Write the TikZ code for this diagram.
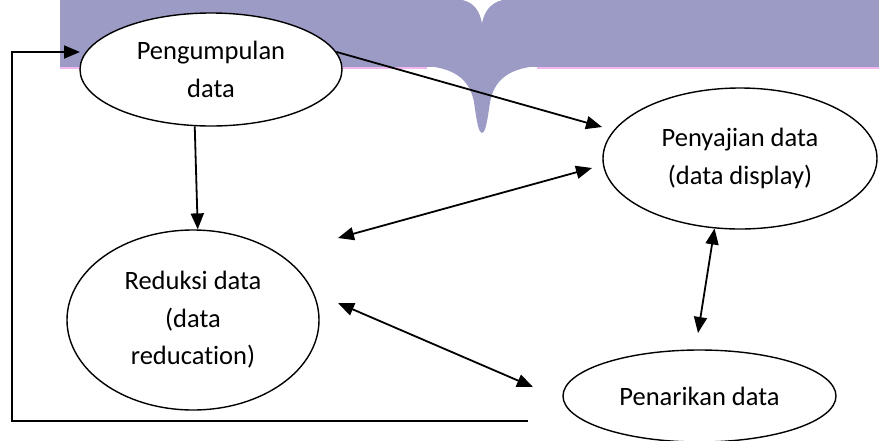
\documentclass[tikz,border=0pt]{standalone}
\usepackage{fontspec}
\newfontfamily\calib[Ligatures=NoCommon]{Carlito}
\usepackage{xcolor}
\definecolor{bandLav}{HTML}{9B9BC5}
\definecolor{bandPink}{HTML}{F2B6F0}
\usepackage{tikz}
\usetikzlibrary{arrows.meta, shapes.geometric}

\begin{document}
\begin{tikzpicture}[
    x=1pt, y=-1pt,
    stage/.style={ellipse, draw=black, fill=white, line width=1.4pt, inner sep=0pt,
                  align=center, font=\calib\fontsize{26.5}{37.5}\selectfont},
    arrow/.style={-{Triangle[length=16pt,width=13pt]}, line width=1.8pt},
    twoway/.style={{Triangle[length=16pt,width=13pt]}-{Triangle[length=16pt,width=13pt]},
                  line width=1.8pt}
]
\useasboundingbox (0,0) rectangle (879,440);
\clip (0,0) rectangle (879,440);

% header band with watermark
\fill[bandLav] (60,0) rectangle (879,67);
\fill[bandPink] (60,67) rectangle (427,68.5);
\fill[bandPink] (537,67) rectangle (879,68.5);
\fill[bandLav] (427,66) .. controls (458,69) and (470,82) .. (474,102)
    .. controls (477,124) and (479,133) .. (482,133)
    .. controls (485,133) and (487,124) .. (490,102)
    .. controls (494,82) and (506,69) .. (537,66) -- cycle;
\fill[white] (463,0) .. controls (475,3) and (480,12) .. (482,23)
    .. controls (484,12) and (490,3) .. (502,0) -- cycle;

% stages
\node[stage, minimum width=262pt, minimum height=113pt] (kumpul) at (211,69.5)
    {Pengumpulan\\data};
\node[stage, minimum width=274pt, minimum height=141pt] (sajian) at (740,158.5)
    {Penyajian data\\(data display)};
\node[stage, minimum width=252pt, minimum height=180pt] (reduksi) at (193,320)
    {Reduksi data\\(data\\reducation)};
\node[stage, minimum width=273pt, minimum height=92pt] (tarik) at (699.5,396)
    {Penarikan data};

% free ends
\coordinate (sajianIn) at (602,127);
\coordinate (redA) at (338,238);
\coordinate (sajA) at (592,168);
\coordinate (redB) at (338,303);
\coordinate (tarikA) at (533,387);
\coordinate (tarikB) at (698,333);
\coordinate (loopStart) at (528,421);
\coordinate (loopTop) at (12,52);
\coordinate (kumpulIn) at (80,52);

\draw[arrow] (kumpul.254) -- (reduksi.87);
\draw[arrow] (kumpul.8) -- (sajianIn);
\draw[twoway] (redA) -- (sajA);
\draw[twoway] (redB) -- (tarikA);
\draw[twoway] (sajian.250) -- (tarikB);
\draw[arrow] (loopStart) -| (loopTop) -- (kumpulIn);
\end{tikzpicture}
\end{document}
